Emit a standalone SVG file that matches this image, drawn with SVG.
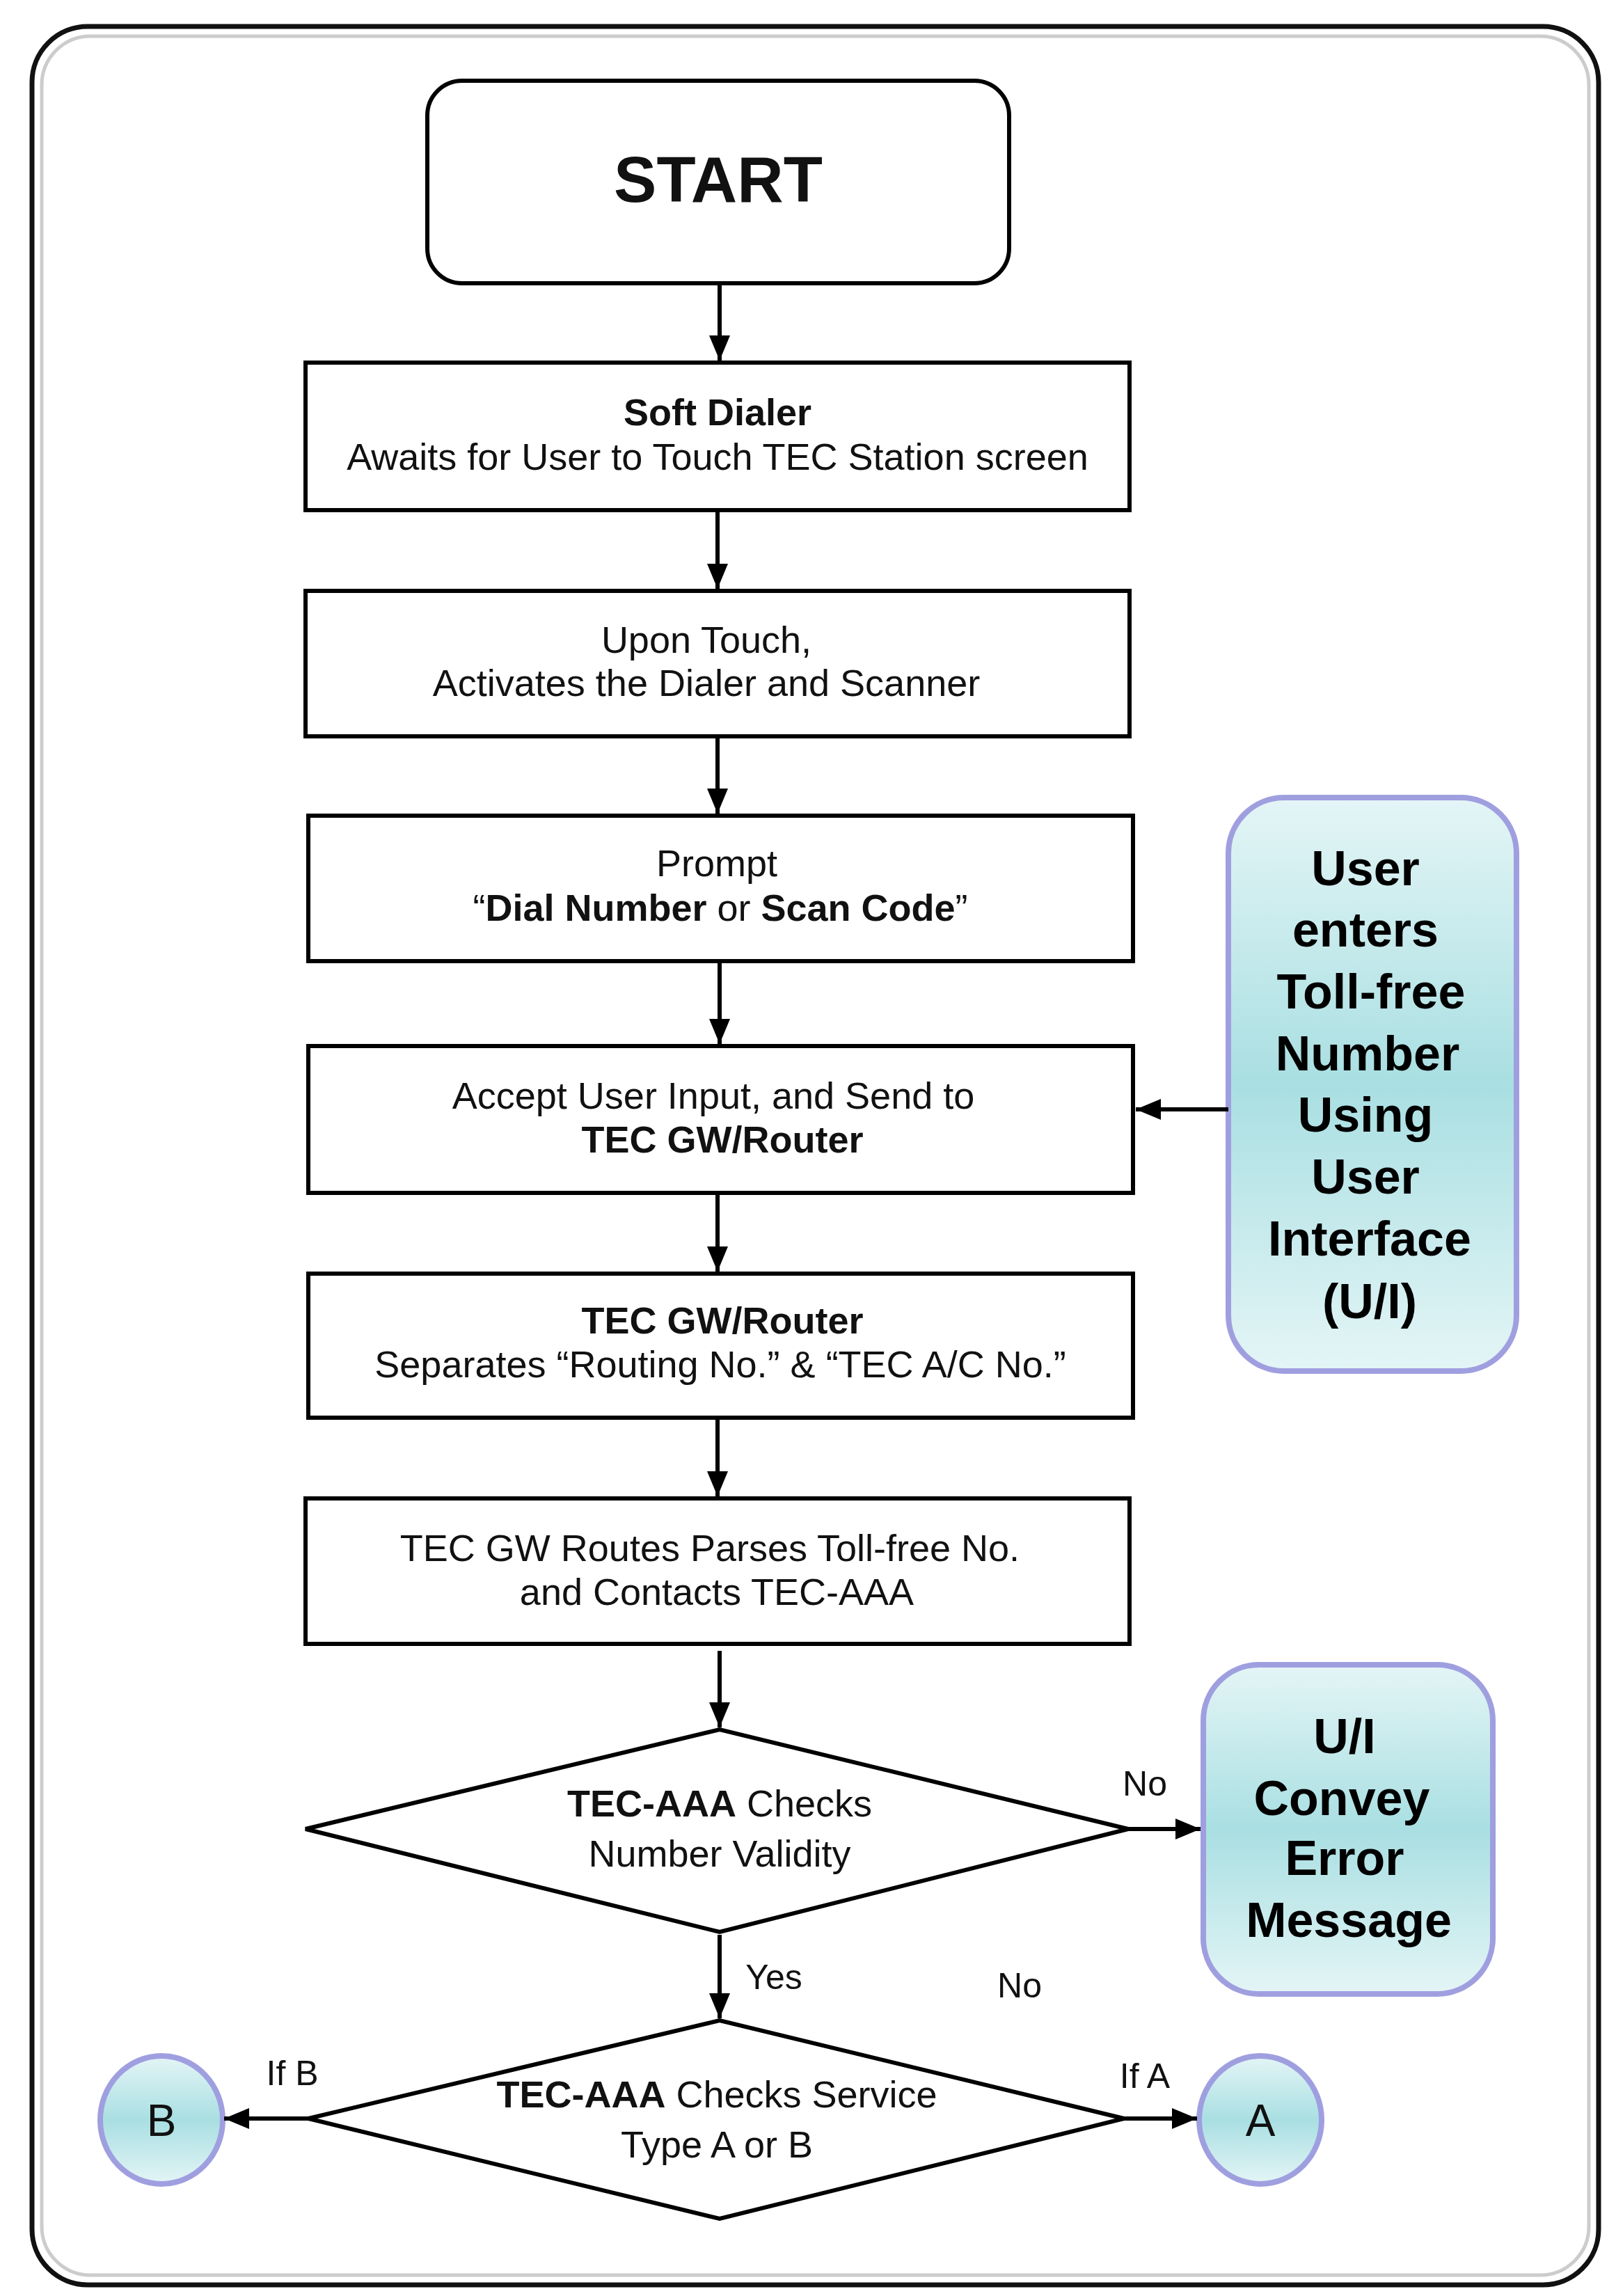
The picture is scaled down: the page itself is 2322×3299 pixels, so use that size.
<svg xmlns="http://www.w3.org/2000/svg" width="2322" height="3299" viewBox="0 0 2322 3299">
<defs>
<linearGradient id="cy" x1="0" y1="0" x2="0" y2="1">
<stop offset="0" stop-color="#e4f5f6"/><stop offset="0.5" stop-color="#a9dfe2"/><stop offset="1" stop-color="#e4f5f6"/>
</linearGradient>
<marker id="ah" viewBox="0 0 10 10" refX="10" refY="5" markerWidth="36" markerHeight="30" markerUnits="userSpaceOnUse" orient="auto" preserveAspectRatio="none">
<path d="M0,0 L10,5 L0,10 z" fill="#000"/>
</marker>
<style>
.b{fill:#fff;stroke:#000;stroke-width:6}
.t{font-family:"Liberation Sans",Arial,sans-serif;font-size:54px;text-anchor:middle;fill:#111}
.bd{font-weight:bold}
.u{fill:url(#cy);stroke:#9f9fe0;stroke-width:8}
.ut{font-family:"Liberation Sans",Arial,sans-serif;font-size:70px;font-weight:bold;text-anchor:middle;fill:#000}
.c{stroke:#000;stroke-width:6;fill:none}
</style>
</defs>
<g id="frame">
<rect x="46" y="38" width="2251" height="3245" rx="80" fill="#fff" stroke="#111" stroke-width="7"/>
<rect x="60" y="52" width="2223" height="3217" rx="70" fill="none" stroke="#ccc" stroke-width="5"/>
</g>
<g id="start"><rect class="b" x="614" y="116" width="836" height="291" rx="50"/><text class="t bd" x="1032" y="290" style="font-size:92px">START</text></g>
<g id="n1"><rect class="b" x="439" y="521" width="1184" height="212"/><text class="t bd" x="1031" y="611">Soft Dialer</text><text class="t" x="1031" y="675">Awaits for User to Touch TEC Station screen</text></g>
<g id="n2"><rect class="b" x="439" y="849" width="1184" height="209"/><text class="t" x="1015" y="938">Upon Touch,</text><text class="t" x="1015" y="1000">Activates the Dialer and Scanner</text></g>
<g id="n3"><rect class="b" x="443" y="1172" width="1185" height="209"/><text class="t" x="1030" y="1259">Prompt</text><text class="t" x="1035" y="1323">“<tspan class="bd">Dial Number</tspan> or <tspan class="bd">Scan Code</tspan>”</text></g>
<g id="n4"><rect class="b" x="443" y="1503" width="1185" height="211"/><text class="t" x="1025" y="1593">Accept User Input, and Send to</text><text class="t bd" x="1038" y="1656">TEC GW/Router</text></g>
<g id="n5"><rect class="b" x="443" y="1830" width="1185" height="207"/><text class="t bd" x="1038" y="1916">TEC GW/Router</text><text class="t" x="1035" y="1979">Separates “Routing No.” &amp; “TEC A/C No.”</text></g>
<g id="n6"><rect class="b" x="439" y="2153" width="1184" height="209"/><text class="t" x="1020" y="2243">TEC GW Routes Parses Toll-free No.</text><text class="t" x="1030" y="2306">and Contacts TEC-AAA</text></g>
<g id="d1"><path class="b" d="M439,2628 L1034,2485 L1621,2628 L1034,2776 Z"/><text class="t" x="1034" y="2610"><tspan class="bd">TEC-AAA</tspan> Checks</text><text class="t" x="1034" y="2682">Number Validity</text></g>
<g id="d2"><path class="b" d="M443,3044 L1034,2903 L1615,3044 L1034,3188 Z"/><text class="t" x="1030" y="3028"><tspan class="bd">TEC-AAA</tspan> Checks Service</text><text class="t" x="1030" y="3100">Type A or B</text></g>
<g id="ui"><rect class="u" x="1765" y="1146" width="414" height="824" rx="80"/>
<text class="ut" x="1962" y="1272">User</text><text class="ut" x="1962" y="1360">enters</text><text class="ut" x="1970" y="1449">Toll-free</text><text class="ut" x="1965" y="1538">Number</text><text class="ut" x="1962" y="1626">Using</text><text class="ut" x="1962" y="1715">User</text><text class="ut" x="1968" y="1804">Interface</text><text class="ut" x="1968" y="1894">(U/I)</text></g>
<g id="err"><rect class="u" x="1729" y="2392" width="416" height="473" rx="80"/>
<text class="ut" x="1932" y="2519">U/I</text><text class="ut" x="1928" y="2608">Convey</text><text class="ut" x="1932" y="2694">Error</text><text class="ut" x="1938" y="2783">Message</text></g>
<g id="cB"><ellipse class="u" cx="232" cy="3046" rx="88" ry="92"/><text class="t" x="232" y="3069" style="font-size:64px">B</text></g>
<g id="cA"><ellipse class="u" cx="1811" cy="3046" rx="88" ry="92"/><text class="t" x="1811" y="3069" style="font-size:64px">A</text></g>
<g id="connectors">
<path class="c" marker-end="url(#ah)" d="M1034,407 V518"/>
<path class="c" marker-end="url(#ah)" d="M1031,733 V846"/>
<path class="c" marker-end="url(#ah)" d="M1031,1058 V1169"/>
<path class="c" marker-end="url(#ah)" d="M1034,1381 V1500"/>
<path class="c" marker-end="url(#ah)" d="M1031,1714 V1827"/>
<path class="c" marker-end="url(#ah)" d="M1031,2037 V2150"/>
<path class="c" marker-end="url(#ah)" d="M1034,2372 V2482"/>
<path class="c" marker-end="url(#ah)" d="M1034,2780 V2900"/>
<path class="c" marker-end="url(#ah)" d="M1765,1594 H1632"/>
<path class="c" marker-end="url(#ah)" d="M1621,2628 H1725"/>
<path class="c" marker-end="url(#ah)" d="M1615,3044 H1720"/>
<path class="c" marker-end="url(#ah)" d="M443,3044 H322"/>
<text class="t" x="1645" y="2580" style="font-size:50px">No</text>
<text class="t" x="1112" y="2858" style="font-size:50px">Yes</text>
<text class="t" x="1465" y="2870" style="font-size:50px">No</text>
<text class="t" x="420" y="2996" style="font-size:50px">If B</text>
<text class="t" x="1645" y="3000" style="font-size:50px">If A</text>
</g>
</svg>
